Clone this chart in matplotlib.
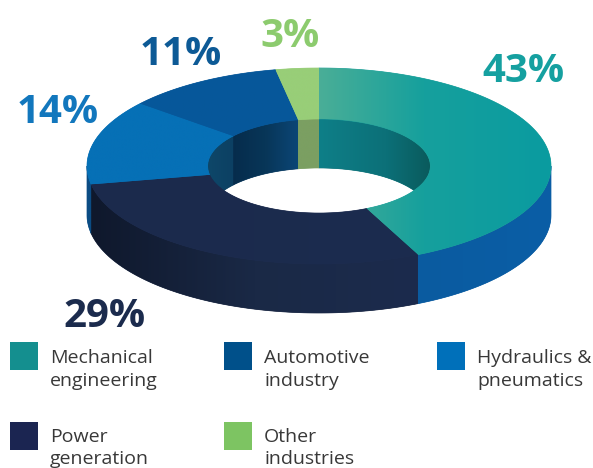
import numpy as np
import matplotlib
matplotlib.use('Agg')
import matplotlib.pyplot as plt
from matplotlib.patches import Polygon, Rectangle
from matplotlib.colors import to_rgb

# ---------------- data ----------------
categories = ['Mechanical\nengineering', 'Power\ngeneration', 'Hydraulics &\npneumatics',
              'Automotive\nindustry', 'Other\nindustries']
shares = [43, 29, 14, 11, 3]
pct_labels = ['43%', '29%', '14%', '11%', '3%']
legend_order = [0, 3, 2, 1, 4]

# ---------------- styles ----------------
legend_colors = ['#148F8F', '#1B2551', '#0070BA', '#00508A', '#7DC462']
label_colors = ['#15A0A0', '#1B2B4D', '#1277BD', '#0D5A96', '#8CCB6E']
top_stops = [[('#4AAE97', 0.0), ('#16A09D', 0.45), ('#0A9BA0', 1.0)],
             [('#1B2A4C', 0.0), ('#1C2C4F', 1.0)],
             [('#0670B6', 0.0), ('#0670B6', 1.0)],
             [('#06579A', 0.0), ('#07589A', 1.0)],
             [('#98CE78', 0.0), ('#98CE78', 1.0)]]
side_stops = [[('#0A5BA0', 0.0), ('#0B5EA6', 1.0)],
              [('#0F182C', 0.0), ('#1A2946', 0.5), ('#1C2B4D', 1.0)],
              [('#0B4C84', 0.0), ('#0B4C84', 1.0)],
              [('#0B4C84', 0.0), ('#0B4C84', 1.0)],
              [('#6FA858', 0.0), ('#6FA858', 1.0)]]
inner_stops = [[('#0E7F88', 0.0), ('#0C7078', 0.6), ('#0A5A5C', 1.0)],
               [('#101A30', 0.0), ('#101A30', 1.0)],
               [('#0E4769', 0.0), ('#0C4063', 1.0)],
               [('#062C4C', 0.0), ('#083658', 0.5), ('#0B4676', 1.0)],
               [('#7B9F62', 0.0), ('#7B9F62', 1.0)]]

W, H = 593, 468
cx, cy = 319.0, 166.0
ra, rb = 232.0, 98.0
hole = 0.48
depth = 49.0

fig = plt.figure(figsize=(W / 100, H / 100), dpi=100)
ax = fig.add_axes([0, 0, 1, 1])
ax.set_xlim(0, W)
ax.set_ylim(H, 0)
ax.set_autoscale_on(False)
ax.axis('off')


def arc(t0, t1, rx, ry, dy=0.0, n=120):
    t = np.radians(np.linspace(t0, t1, n))
    return np.column_stack([cx + rx * np.cos(t), cy - ry * np.sin(t) + dy])


def overlap(lo, hi, a, b):
    out = []
    for k in (-360, 0, 360):
        l, h = max(lo + k, a), min(hi + k, b)
        if h > l:
            out.append((l, h))
    return out


def grad_fill(verts, stops, z):
    verts = np.asarray(verts)
    x0, x1 = verts[:, 0].min(), verts[:, 0].max()
    y0, y1 = verts[:, 1].min(), verts[:, 1].max()
    cols = np.array([to_rgb(c) for c, _ in stops])
    pos = np.array([p for _, p in stops])
    xs = np.linspace(0, 1, 256)
    img = np.stack([np.interp(xs, pos, cols[:, i]) for i in range(3)], axis=-1)[None, :, :]
    mean = tuple(img[0].mean(axis=0))
    poly = Polygon(verts, closed=True, facecolor=mean, edgecolor=mean, lw=0.5, zorder=z)
    ax.add_patch(poly)
    im = ax.imshow(img, extent=(x0, x1, y1, y0), aspect='auto', zorder=z + 0.1,
                   interpolation='bilinear')
    im.set_clip_path(poly)


# slice angular ranges (start at 12 o'clock, clockwise)
bounds = 90 - 360 * np.concatenate([[0], np.cumsum(shares)]) / sum(shares)
ranges = [(bounds[i + 1], bounds[i]) for i in range(len(shares))]

# outer side walls (front half)
for i, (lo, hi) in enumerate(ranges):
    for l, h in overlap(lo, hi, -180, 0):
        v = np.vstack([arc(l, h, ra, rb), arc(h, l, ra, rb, depth)])
        grad_fill(v, side_stops[i], 1)

# inner walls (back half of hole)
for i, (lo, hi) in enumerate(ranges):
    for l, h in overlap(lo, hi, 0, 180):
        v = np.vstack([arc(l, h, ra * hole, rb * hole), arc(h, l, ra * hole, rb * hole, depth)])
        grad_fill(v, inner_stops[i], 2)

# top faces
for i, (lo, hi) in enumerate(ranges):
    v = np.vstack([arc(lo, hi, ra, rb), arc(hi, lo, ra * hole, rb * hole)])
    grad_fill(v, top_stops[i], 3)

# percentage labels
label_pos = [(523, 82), (105, 327), (57.5, 123), (181, 65), (290, 47)]
for i, txt in enumerate(pct_labels):
    ax.text(label_pos[i][0], label_pos[i][1], txt, ha='center', va='baseline',
            fontsize=29, fontweight='bold', family=['Open Sans', 'DejaVu Sans'],
            color=label_colors[i], zorder=6)

# legend
col_x = [10, 224, 437]
row_y = [342, 422]
row_base = [21, 20]
row_gap = [23, 22]
for k, idx in enumerate(legend_order):
    r, c = divmod(k, 3)
    x, y = col_x[c], row_y[r]
    ax.add_patch(Rectangle((x, y), 28, 28, facecolor=legend_colors[idx], edgecolor='none', zorder=6))
    for j, line in enumerate(categories[idx].split('\n')):
        ax.text(x + 40, y + row_base[r] + row_gap[r] * j, line, ha='left', va='baseline',
                fontsize=14, family=['Open Sans', 'DejaVu Sans'], color='#383838', zorder=6)

fig.savefig('out.png', dpi=100, facecolor='white')
